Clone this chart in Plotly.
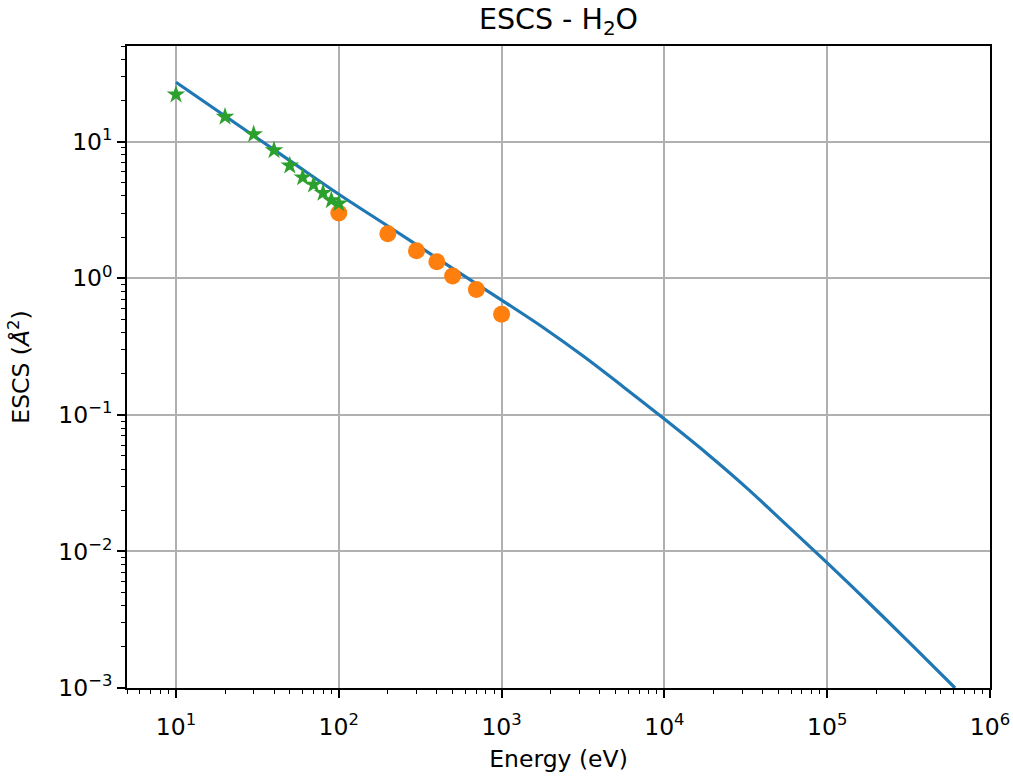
import plotly.graph_objects as go

# Calculated ESCS curve
curve_energy = [10, 20, 50, 100, 200, 500, 1000, 1800, 3200, 5600, 1e4, 1.8e4, 3.2e4, 5.6e4,
                1e5, 1.8e5, 3.2e5, 6.1e5]
curve_escs = [27.2, 15.4, 7.26, 4.12, 2.41, 1.18, 0.692, 0.436, 0.267, 0.160, 0.0931, 0.0528,
              0.0292, 0.0157, 0.00824, 0.00421, 0.00215, 0.001]

# Experimental set 1 (stars)
star_energy = [10, 20, 30, 40, 50, 60, 70, 80, 90, 100]
star_escs = [22.1, 15.2, 11.3, 8.63, 6.67, 5.47, 4.84, 4.21, 3.72, 3.52]

# Experimental set 2 (circles)
circ_energy = [100, 200, 300, 400, 500, 700, 1000]
circ_escs = [3.0, 2.12, 1.59, 1.32, 1.04, 0.826, 0.545]

x_tickvals = [10, 100, 1000, 1e4, 1e5, 1e6]
x_ticktext = ["10<sup>1</sup>", "10<sup>2</sup>", "10<sup>3</sup>", "10<sup>4</sup>",
              "10<sup>5</sup>", "10<sup>6</sup>"]
y_tickvals = [1e-3, 1e-2, 1e-1, 1, 10]
y_ticktext = ["10<sup>−3</sup>", "10<sup>−2</sup>", "10<sup>−1</sup>", "10<sup>0</sup>", "10<sup>1</sup>"]

x_minor = [m * 10 ** e for e in range(0, 6) for m in range(2, 10) if 5 <= m * 10 ** e <= 1e6]
y_minor = [m * 10 ** e for e in range(-3, 2) for m in range(2, 10) if m * 10 ** e <= 50]

FONT = "DejaVu Sans"
TICK_SIZE = 23.5
TITLE_SIZE = 28.5

fig = go.Figure()
fig.add_trace(go.Scatter(x=curve_energy, y=curve_escs, mode="lines",
                         line=dict(color="#1f77b4", width=3.2, shape="spline", smoothing=1.0),
                         showlegend=False))
fig.add_trace(go.Scatter(x=circ_energy, y=circ_escs, mode="markers",
                         marker=dict(color="#ff7f0e", size=17, symbol="circle"),
                         showlegend=False))
fig.add_trace(go.Scatter(x=star_energy, y=star_escs, mode="markers",
                         marker=dict(color="#2ca02c", size=14, symbol="star"),
                         showlegend=False))

axis_common = dict(
    showline=True, linecolor="black", linewidth=1.6, mirror=True,
    ticks="outside", ticklen=8, tickwidth=1.6, tickcolor="black",
    showgrid=True, gridcolor="#b0b0b0", gridwidth=1.6,
    zeroline=False, automargin=False,
    tickfont=dict(family=FONT, size=TICK_SIZE, color="black"),
)

fig.update_xaxes(type="log", range=[0.699, 6], tickmode="array",
                 tickvals=x_tickvals, ticktext=x_ticktext, ticklabelstandoff=9,
                 minor=dict(tickvals=x_minor, ticks="outside", ticklen=4.5, tickwidth=1.2,
                            tickcolor="black", showgrid=False),
                 title=dict(text="Energy (eV)",
                            font=dict(family=FONT, size=TICK_SIZE, color="black"),
                            standoff=11),
                 **axis_common)
fig.update_yaxes(type="log", range=[-3, 1.7], tickmode="array",
                 tickvals=y_tickvals, ticktext=y_ticktext,
                 minor=dict(tickvals=y_minor, ticks="outside", ticklen=4.5, tickwidth=1.2,
                            tickcolor="black", showgrid=False),
                 title=dict(text="ESCS (<i>Å</i><sup>2</sup>)",
                            font=dict(family=FONT, size=TICK_SIZE, color="black"), standoff=22),
                 **axis_common)

fig.update_layout(
    width=1013, height=777,
    margin=dict(l=127, r=23, t=46, b=89),
    plot_bgcolor="white", paper_bgcolor="white",
    title=dict(text="ESCS - H<sub>2</sub>O", xref="paper", x=0.5, xanchor="center",
               y=0.975, yanchor="middle",
               font=dict(family=FONT, size=TITLE_SIZE, color="black")),
)

fig.write_html("out.html", config={"displayModeBar": False},
               post_script="document.body.style.margin='0';document.body.style.overflow='hidden';")
